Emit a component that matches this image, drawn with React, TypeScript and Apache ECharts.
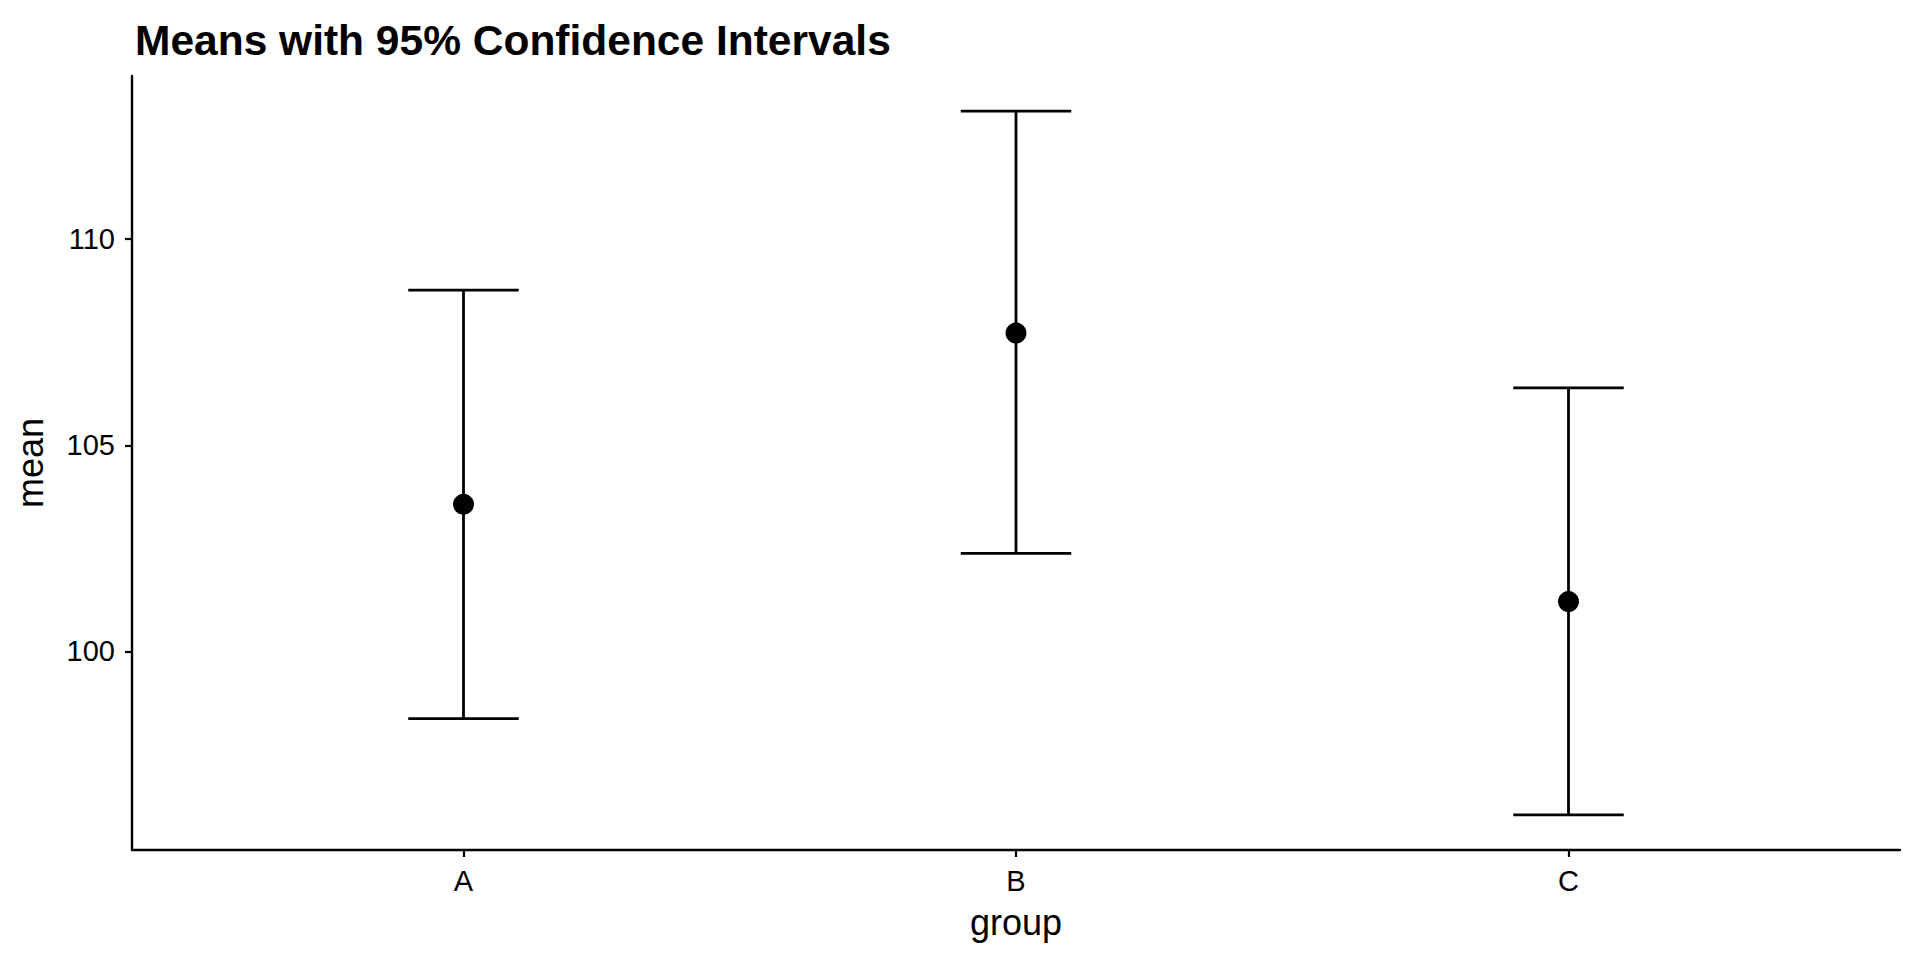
import React, { useEffect, useRef } from "react";
import * as echarts from "echarts";

const groups = ["A", "B", "C"];
const means = [103.57, 107.72, 101.21];
const lowers = [98.37, 102.38, 96.04];
const uppers = [108.76, 113.1, 106.39];
const yTicks = [100, 105, 110];
const titleText = "Means with 95% Confidence Intervals";

export default function App() {
  const ref = useRef<HTMLDivElement>(null);
  useEffect(() => {
    if (!ref.current) return;
    const chart = echarts.init(ref.current, null, { renderer: "svg" });
    const lo = Math.min(...lowers);
    const hi = Math.max(...uppers);
    const pad = (hi - lo) * 0.05;
    const xPos = groups.map((_, i) => i + 1);
    const font = "'Liberation Sans', Arial, Helvetica, sans-serif";
    chart.setOption({
      animation: false,
      backgroundColor: "#ffffff",
      title: {
        text: titleText,
        left: 130,
        top: 14,
        textStyle: { fontFamily: font, fontSize: 42.5, fontWeight: "bold", color: "#000" },
      },
      grid: { left: 132, right: 20, top: 76, bottom: 110, containLabel: false },
      xAxis: {
        type: "value",
        min: 0.4,
        max: 3.6,
        name: "group",
        nameLocation: "middle",
        nameGap: 54,
        nameTextStyle: { fontFamily: font, fontSize: 36, color: "#000" },
        axisLine: { show: true, onZero: false, lineStyle: { color: "#000", width: 2.4 } },
        axisTick: { show: true, length: 7, lineStyle: { color: "#000", width: 2.2 }, customValues: xPos },
        axisLabel: {
          show: true,
          margin: 16,
          fontFamily: font,
          fontSize: 29,
          color: "#000",
          customValues: xPos,
          formatter: (v: number) => groups[Math.round(v) - 1] ?? "",
        },
        splitLine: { show: false },
      },
      yAxis: {
        type: "value",
        min: lo - pad,
        max: hi + pad,
        name: "mean",
        nameLocation: "middle",
        nameGap: 84,
        nameRotate: 90,
        nameTextStyle: { fontFamily: font, fontSize: 36, color: "#000" },
        axisLine: { show: true, onZero: false, lineStyle: { color: "#000", width: 2.4 } },
        axisTick: { show: true, length: 7, lineStyle: { color: "#000", width: 2.2 }, customValues: yTicks },
        axisLabel: {
          show: true,
          margin: 17,
          fontFamily: font,
          fontSize: 29,
          color: "#000",
          customValues: yTicks,
        },
        splitLine: { show: false },
      },
      series: [
        {
          type: "custom",
          data: groups.map((_, i) => [xPos[i], lowers[i], uppers[i]]),
          encode: { x: 0, y: [1, 2] },
          renderItem: (params: any, api: any) => {
            const x = api.value(0);
            const pLo = api.coord([x, api.value(1)]);
            const pHi = api.coord([x, api.value(2)]);
            const half = api.size([0.2, 0])[0] / 2;
            const style = { stroke: "#000", lineWidth: 2.8, fill: "none" };
            return {
              type: "group",
              children: [
                { type: "line", shape: { x1: pLo[0], y1: pLo[1], x2: pHi[0], y2: pHi[1] }, style },
                { type: "line", shape: { x1: pHi[0] - half, y1: pHi[1], x2: pHi[0] + half, y2: pHi[1] }, style },
                { type: "line", shape: { x1: pLo[0] - half, y1: pLo[1], x2: pLo[0] + half, y2: pLo[1] }, style },
              ],
            };
          },
          z: 2,
        },
        {
          type: "scatter",
          data: groups.map((_, i) => [xPos[i], means[i]]),
          symbol: "circle",
          symbolSize: 21,
          itemStyle: { color: "#000", opacity: 1 },
          z: 3,
        },
      ],
    });
    return () => chart.dispose();
  }, []);
  return (
    <div
      ref={ref}
      style={{ position: "fixed", left: 0, top: 0, width: 1920, height: 960, background: "#fff" }}
    />
  );
}
